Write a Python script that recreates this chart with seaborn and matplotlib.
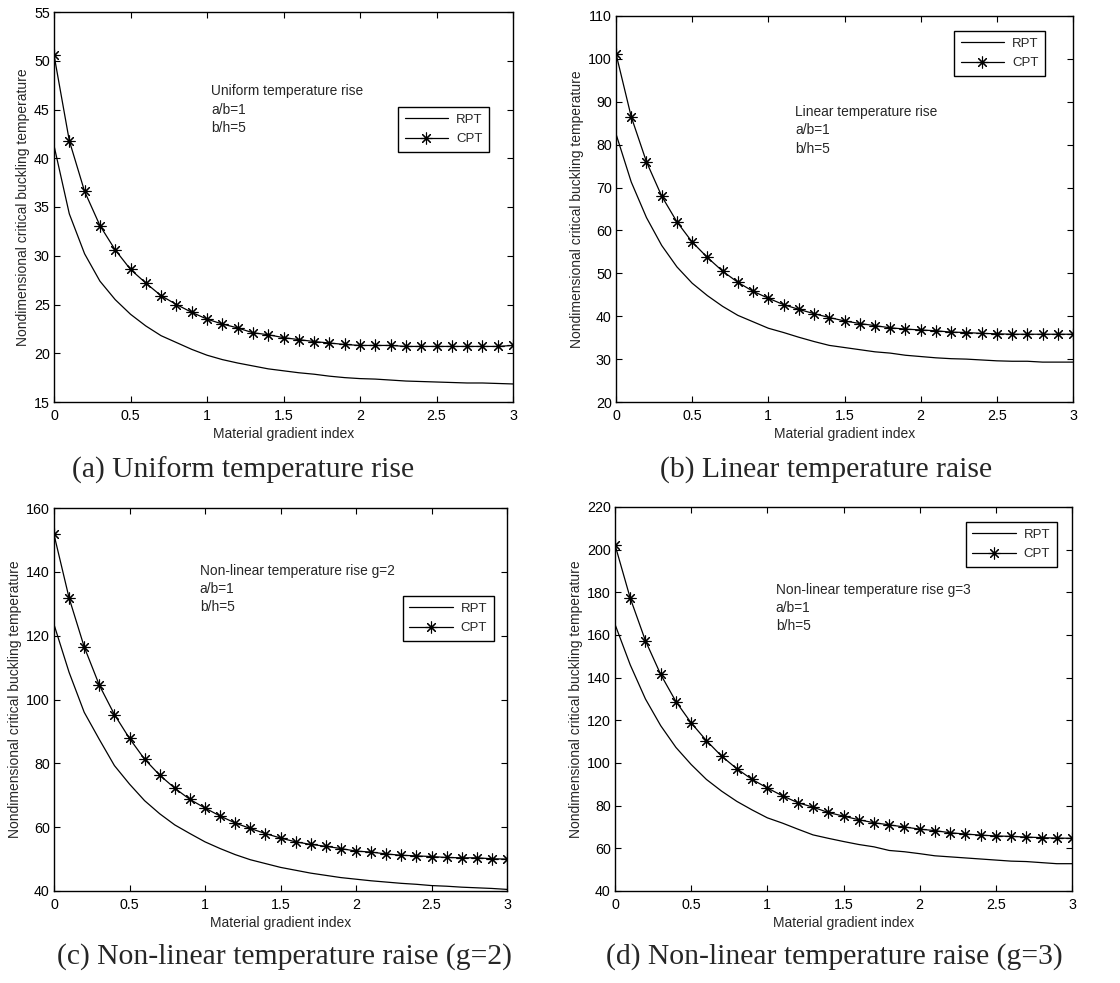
import matplotlib
matplotlib.use('Agg')
import matplotlib.pyplot as plt
import seaborn as sns
import numpy as np
import pandas as pd

# material gradient index, 0 to 3 in steps of 0.1
gradient_index = [round(0.1 * i, 1) for i in range(31)]

# (a) uniform temperature rise
rpt_uniform = [41.3, 34.3, 30.2, 27.4, 25.5, 24.0, 22.8, 21.8, 21.1, 20.4, 19.8,
               19.35, 19.0, 18.7, 18.4, 18.2, 18.0, 17.85, 17.65, 17.5, 17.4,
               17.35, 17.25, 17.15, 17.1, 17.05, 17.0, 16.95, 16.95, 16.9, 16.85]
cpt_uniform = [50.6, 41.8, 36.6, 33.1, 30.6, 28.6, 27.2, 25.9, 25.0, 24.2, 23.5,
               23.0, 22.6, 22.1, 21.9, 21.6, 21.4, 21.2, 21.05, 20.9, 20.8,
               20.8, 20.8, 20.7, 20.7, 20.7, 20.7, 20.7, 20.7, 20.7, 20.8]

# (b) linear temperature rise
rpt_linear = [82.5, 71.3, 63.0, 56.5, 51.5, 47.7, 44.8, 42.3, 40.2, 38.7, 37.2,
              36.2, 35.1, 34.1, 33.2, 32.7, 32.2, 31.7, 31.4, 30.9, 30.6,
              30.3, 30.1, 30.0, 29.8, 29.6, 29.5, 29.5, 29.3, 29.3, 29.3]
cpt_linear = [101.2, 86.5, 76.0, 68.0, 62.0, 57.3, 53.7, 50.5, 47.9, 45.8, 44.2,
              42.7, 41.6, 40.6, 39.7, 38.9, 38.3, 37.8, 37.3, 37.0, 36.8,
              36.6, 36.3, 36.2, 36.0, 35.9, 35.8, 35.8, 35.8, 35.8, 35.8]

# (c) non-linear temperature rise g=2
rpt_nonlin2 = [123.5, 108.5, 96.0, 87.5, 79.3, 73.5, 68.3, 64.2, 60.7, 58.0, 55.4,
               53.3, 51.4, 49.8, 48.6, 47.4, 46.5, 45.6, 44.9, 44.2, 43.7,
               43.2, 42.8, 42.4, 42.1, 41.7, 41.5, 41.2, 41.0, 40.8, 40.5]
cpt_nonlin2 = [151.7, 131.8, 116.5, 104.5, 95.3, 87.8, 81.3, 76.3, 72.2, 68.7, 66.0,
               63.5, 61.3, 59.6, 58.0, 56.6, 55.4, 54.6, 54.0, 53.3, 52.5,
               52.2, 51.6, 51.2, 51.0, 50.8, 50.5, 50.4, 50.4, 50.1, 50.0]

# (d) non-linear temperature rise g=3
rpt_nonlin3 = [165.0, 146.0, 130.0, 117.5, 107.3, 99.3, 92.3, 86.8, 82.0, 78.0, 74.3,
               71.8, 69.0, 66.3, 64.7, 63.2, 61.8, 60.7, 59.0, 58.4, 57.5,
               56.5, 56.0, 55.5, 55.0, 54.5, 54.0, 53.8, 53.3, 52.8, 52.8]
cpt_nonlin3 = [202.3, 177.3, 157.3, 141.5, 128.8, 118.8, 110.5, 103.2, 97.3, 92.3, 88.3,
               84.6, 81.4, 79.3, 76.8, 75.1, 73.4, 72.0, 71.0, 70.0, 69.0,
               68.3, 67.3, 66.7, 66.2, 65.8, 65.6, 65.3, 65.0, 64.8, 64.7]

panel_notes = ['Uniform temperature rise', 'Linear temperature rise',
               'Non-linear temperature rise g=2', 'Non-linear temperature rise g=3']
captions = ['(a) Uniform temperature rise', '(b) Linear temperature raise',
            '(c) Non-linear temperature raise (g=2)', '(d) Non-linear temperature raise (g=3)']
y_limits = [(15, 55), (20, 110), (40, 160), (40, 220)]
y_steps = [5, 10, 20, 20]

sns.set_style('ticks')
plt.rcParams['font.family'] = ['Liberation Sans', 'DejaVu Sans']
plt.rcParams['xtick.direction'] = 'in'
plt.rcParams['ytick.direction'] = 'in'
plt.rcParams['xtick.top'] = True
plt.rcParams['ytick.right'] = True
plt.rcParams['xtick.major.size'] = 4
plt.rcParams['ytick.major.size'] = 4
plt.rcParams['axes.linewidth'] = 1.0
plt.rcParams['axes.edgecolor'] = 'black'

fig = plt.figure(figsize=(11.2, 9.83), dpi=100)
W, H = 1120, 983
# axes boxes in pixels: left, top, right, bottom
boxes = [(54, 12, 513, 402), (616, 16, 1073, 402),
         (54, 508, 507, 891), (615, 507, 1072, 891)]
legend_pos = [(0.948, 0.756), (0.939, 0.961), (0.971, 0.770), (0.967, 0.961)]
note_pos = [(0.342, 0.815), (0.392, 0.77), (0.322, 0.855), (0.352, 0.803)]
caption_pos = [(243, 470), (826, 470), (284, 957), (834, 957)]

series = [(rpt_uniform, cpt_uniform), (rpt_linear, cpt_linear),
          (rpt_nonlin2, cpt_nonlin2), (rpt_nonlin3, cpt_nonlin3)]

for i, (rpt, cpt) in enumerate(series):
    l, t, r, b = boxes[i]
    ax = fig.add_axes([l / W, 1 - b / H, (r - l) / W, (b - t) / H])
    df = pd.DataFrame({'n': gradient_index, 'RPT': rpt, 'CPT': cpt})
    sns.lineplot(data=df, x='n', y='RPT', ax=ax, color='k', lw=0.9, label='RPT')
    sns.lineplot(data=df, x='n', y='CPT', ax=ax, color='k', lw=0.9, label='CPT',
                 marker=(8, 2, 0), markersize=8.5, markeredgewidth=0.8,
                 markeredgecolor='k')
    ax.set_xlim(0, 3)
    ax.set_ylim(*y_limits[i])
    ax.set_xticks(np.arange(0, 3.01, 0.5))
    ax.set_xticklabels(['0', '0.5', '1', '1.5', '2', '2.5', '3'])
    ax.set_yticks(np.arange(y_limits[i][0], y_limits[i][1] + 0.1, y_steps[i]))
    ax.tick_params(labelsize=10.3, width=0.8, colors='k', pad=3)
    ax.tick_params(axis='x', pad=5)
    ax.set_xlabel('Material gradient index', fontsize=10, labelpad=3)
    ax.set_ylabel('Nondimensional critical buckling temperature', fontsize=10, labelpad=3)
    for s in ax.spines.values():
        s.set_visible(True)
    leg = ax.legend(loc='upper right', bbox_to_anchor=legend_pos[i], fontsize=9.5,
                    frameon=True, fancybox=False, edgecolor='k', framealpha=1,
                    borderaxespad=0, handlelength=3.3, borderpad=0.5,
                    labelspacing=0.55, handletextpad=0.6)
    leg.get_frame().set_linewidth(1.0)
    ax.text(note_pos[i][0], note_pos[i][1], panel_notes[i] + '\na/b=1\nb/h=5',
            transform=ax.transAxes, fontsize=9.9, va='top', ha='left',
            linespacing=1.4)
    fig.text(caption_pos[i][0] / W, 1 - caption_pos[i][1] / H, captions[i],
             fontsize=21.3, family=['Liberation Serif', 'DejaVu Serif'],
             ha='center', va='center')

fig.savefig('out.png', dpi=100, facecolor='white')
